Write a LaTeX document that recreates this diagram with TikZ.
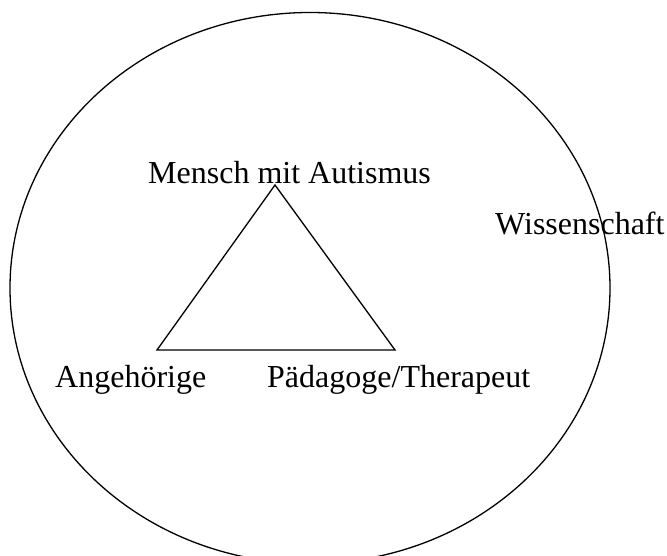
\documentclass[tikz,border=0pt]{standalone}
\usepackage{fontspec}
\setmainfont{Liberation Serif}
\begin{document}
\begin{tikzpicture}[x=1pt,y=-1pt,
  lbl/.style={anchor=base west,inner sep=0pt,font=\fontsize{32}{38}\selectfont},
  stroke/.style={line width=1.3pt,black}]
\useasboundingbox (0,0) rectangle (667,556);
\clip (0,0) rectangle (667,556);
\draw[stroke] (310,288) ellipse [x radius=300, y radius=275.5];
\coordinate (apex) at (275,185);
\coordinate (bl) at (157,350);
\coordinate (br) at (395,350);
\draw[stroke,line join=miter] (apex) -- (br) -- (bl) -- cycle;
\node[lbl] (mensch) at (148,184) {Mensch mit Autismus};
\node[lbl] (wiss) at (495,235) {Wissenschaft};
\node[lbl] (ang) at (55,387) {Angehörige};
\node[lbl] (paed) at (267,387) {Pädagoge/Therapeut};
\end{tikzpicture}
\end{document}
